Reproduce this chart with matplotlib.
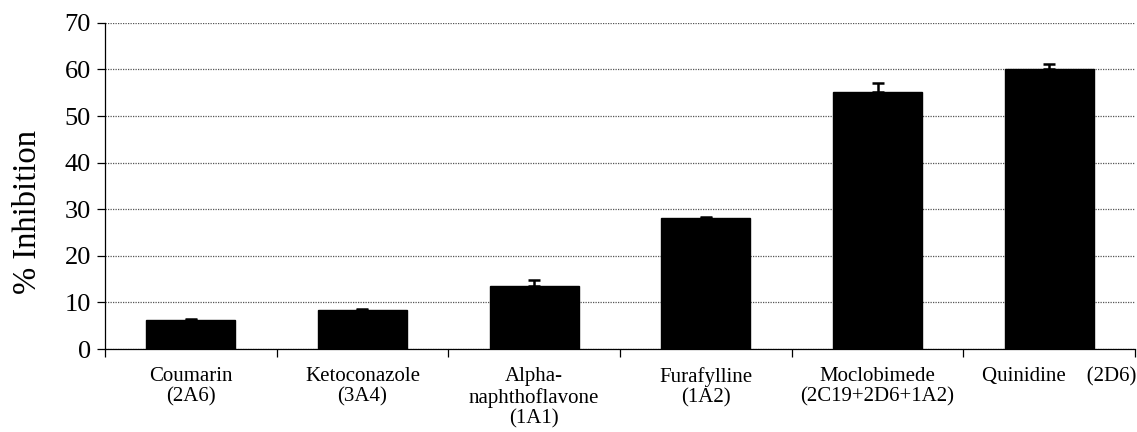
import matplotlib
matplotlib.use('agg')
import matplotlib.pyplot as plt
import numpy as np

labels = ['Coumarin\n(2A6)', 'Ketoconazole\n(3A4)', 'Alpha-\nnaphthoflavone\n(1A1)',
          'Furafylline\n(1A2)', 'Moclobimede\n(2C19+2D6+1A2)', 'Quinidine    (2D6)']
values = [6.2, 8.4, 13.5, 28.2, 55.2, 60.1]
errors = [0.15, 0.2, 1.3, 0.2, 1.8, 1.0]

plt.rcParams['font.family'] = ['Liberation Serif', 'DejaVu Serif']

fig = plt.figure(figsize=(11.37, 4.32), dpi=100)
ax = fig.add_axes([0.0923, 0.192, 0.906, 0.755])

x = np.arange(len(values))
ax.bar(x, values, width=0.52, color='black', edgecolor='black', zorder=3)
ax.errorbar(x, values, yerr=[np.zeros(len(errors)), errors], fmt='none',
            ecolor='black', elinewidth=1.8, capsize=4.5, capthick=1.8, zorder=4)

ax.set_ylim(0, 70)
ax.set_yticks(range(0, 71, 10))
ax.set_xlim(-0.5, len(values) - 0.5)
ax.set_xticks(np.arange(-0.5, len(values), 1.0))
ax.set_xticklabels([])
# last label sits a little right of its category centre in the original
label_pos = x.astype(float)
label_pos[-1] += 0.06
ax.set_xticks(label_pos, minor=True)
ax.set_xticklabels(labels, minor=True, fontsize=15, linespacing=1.1)
ax.tick_params(axis='x', which='minor', length=0, pad=13)
ax.tick_params(axis='x', which='major', length=6, direction='out', width=0.9)
ax.tick_params(axis='y', length=6, direction='out', width=0.9, labelsize=19, pad=4)

ax.yaxis.grid(True, linestyle=(0, (1, 1)), color='#555555', linewidth=0.9, zorder=0)
ax.set_axisbelow(True)
for s in ['top', 'right']:
    ax.spines[s].set_visible(False)
ax.spines['left'].set_linewidth(0.9)
ax.spines['bottom'].set_linewidth(0.9)

ax.set_ylabel('% Inhibition', fontsize=23.5)
ax.yaxis.set_label_coords(-0.06, 0.42)

fig.savefig('out.png', dpi=100)
